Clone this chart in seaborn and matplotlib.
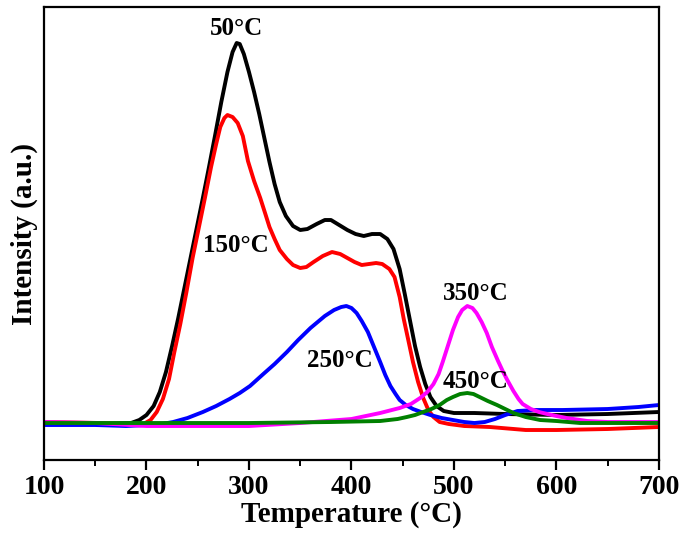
import pandas as pd
import matplotlib
matplotlib.use("Agg")
import matplotlib.pyplot as plt
from matplotlib.ticker import MultipleLocator, NullLocator
import seaborn as sns

# Valores (intensidad en unidades arbitrarias)
t_50 = [100, 155, 185, 193, 200, 207, 213, 219, 225, 231, 237, 243, 249, 255, 261, 267, 273, 279, 284,
        288, 291, 295, 300, 305, 310, 315, 320, 325, 330, 336, 343, 350, 357, 366, 374, 380, 388, 396,
        404, 412, 420, 428, 435, 441, 447, 452, 457, 462, 467, 472, 477, 483, 490, 500, 520, 550, 600,
        650, 700]
i_50 = [0, 0, 1, 4, 9, 18, 32, 52, 78, 106, 136, 166, 196, 226, 257, 289, 322, 352, 372,
        381, 380, 370, 352, 332, 310, 286, 262, 240, 222, 208, 198, 194, 195, 200, 204, 204, 199, 194,
        190, 188, 190, 190, 185, 175, 155, 130, 104, 78, 57, 40, 27, 18, 13, 11, 11, 10, 9,
        10, 12]

t_150 = [100, 155, 186, 197, 204, 210, 216, 222, 227, 233, 239, 245, 251, 257, 263, 268, 272, 276, 279,
         284, 289, 294, 299, 305, 311, 316, 320, 325, 330, 337, 343, 350, 356, 363, 372, 381, 389, 396,
         403, 410, 417, 424, 430, 437, 442, 447, 451, 455, 460, 465, 470, 475, 480, 486, 495, 510, 535,
         570, 600, 650, 700]
i_150 = [2, 1, -1, 0, 4, 12, 25, 45, 71, 100, 132, 166, 196, 226, 257, 280, 297, 306, 309,
         307, 301, 288, 263, 243, 226, 210, 197, 185, 174, 165, 159, 156, 157, 162, 168, 172, 170, 166,
         162, 159, 160, 161, 160, 155, 147, 127, 105, 86, 62, 42, 26, 14, 7, 2, 0, -2, -3,
         -6, -6, -5, -3]

t_250 = [100, 150, 180, 200, 215, 226, 240, 255, 268, 281, 291, 301, 314, 325, 337, 348, 360, 374, 383,
         390, 395, 400, 405, 410, 416, 422, 428, 433, 438, 443, 447, 453, 460, 468, 477, 488, 499, 510,
         520, 530, 540, 550, 562, 580, 606, 650, 680, 700]
i_250 = [-1, -1, -2, -1, 0, 2, 6, 12, 18, 25, 31, 38, 50, 60, 72, 84, 96, 108, 114,
         117, 118, 116, 111, 103, 92, 77, 62, 49, 38, 30, 24, 19, 15, 12, 9, 6, 4, 2,
         1, 2, 5, 9, 13, 14, 14, 15, 17, 19]

t_350 = [100, 150, 200, 300, 350, 400, 428, 447, 458, 467, 474, 480, 485, 489, 494, 499, 504, 508, 513,
         518, 522, 527, 532, 537, 543, 548, 552, 558, 563, 567, 575, 583, 591, 600, 610, 630, 650, 700]
i_350 = [2, 1, -2, -2, 1, 5, 11, 16, 20, 26, 32, 40, 50, 62, 78, 94, 107, 114, 118,
         116, 111, 102, 91, 77, 63, 52, 44, 33, 25, 20, 15, 12, 10, 8, 6, 3, 2, 2]

t_450 = [100, 200, 300, 380, 428, 445, 454, 462, 470, 478, 486, 493, 499, 506, 513, 519, 525, 533, 542,
         550, 558, 570, 584, 600, 623, 700]
i_450 = [1, 1, 1, 2, 3, 5, 7, 9, 12, 15, 19, 24, 27, 30, 31, 30, 27, 23, 19,
         15, 11, 7, 4, 3, 1, 1]

series = ["50", "150", "250", "350", "450"]
colores = ["#000000", "#ff0000", "#0000ff", "#ff00ff", "#008000"]
etiquetas = ["50\u00b0C", "150\u00b0C", "250\u00b0C", "350\u00b0C", "450\u00b0C"]
pos_etiquetas = [(288, 396), (287, 179), (389, 64), (521, 131), (521, 43)]

df = pd.concat([
    pd.DataFrame({"temp": t, "intensity": i, "serie": s})
    for t, i, s in zip([t_50, t_150, t_250, t_350, t_450],
                       [i_50, i_150, i_250, i_350, i_450], series)
])

sns.set_style("ticks")
plt.rcParams["font.family"] = ["Liberation Serif", "DejaVu Serif"]
plt.rcParams["font.weight"] = "bold"
plt.rcParams["text.color"] = "black"
plt.rcParams["axes.labelcolor"] = "black"
plt.rcParams["xtick.color"] = "black"
plt.rcParams["axes.edgecolor"] = "black"
plt.rcParams["lines.solid_joinstyle"] = "round"

fig = plt.figure(figsize=(6.85, 5.44), dpi=100)
ax = fig.add_axes([0.0642, 0.1544, 0.8978, 0.8327])

sns.lineplot(
    data=df,
    x="temp",
    y="intensity",
    hue="serie",
    hue_order=series,
    palette=colores,
    sort=False,
    estimator=None,
    linewidth=2.8,
    legend=False,
    ax=ax,
)

for txt, (x, y) in zip(etiquetas, pos_etiquetas):
    ax.text(x, y, txt, ha="center", va="center", fontsize=18, fontweight="bold")

ax.set_xlim(100, 700)
ax.set_ylim(-36, 417)
ax.xaxis.set_major_locator(MultipleLocator(100))
ax.xaxis.set_minor_locator(MultipleLocator(50))
ax.yaxis.set_major_locator(NullLocator())
ax.tick_params(axis="x", which="major", length=7, width=1.6, labelsize=20, direction="out")
ax.tick_params(axis="x", which="minor", length=4, width=1.4, direction="out")
for lab in ax.get_xticklabels():
    lab.set_fontweight("bold")
for sp in ax.spines.values():
    sp.set_visible(True)
    sp.set_linewidth(1.6)

ax.set_xlabel("Temperature (\u00b0C)", fontsize=21, fontweight="bold", labelpad=1)
ax.set_ylabel("Intensity (a.u.)", fontsize=21, fontweight="bold", labelpad=4)

fig.savefig("out.png", dpi=100)
